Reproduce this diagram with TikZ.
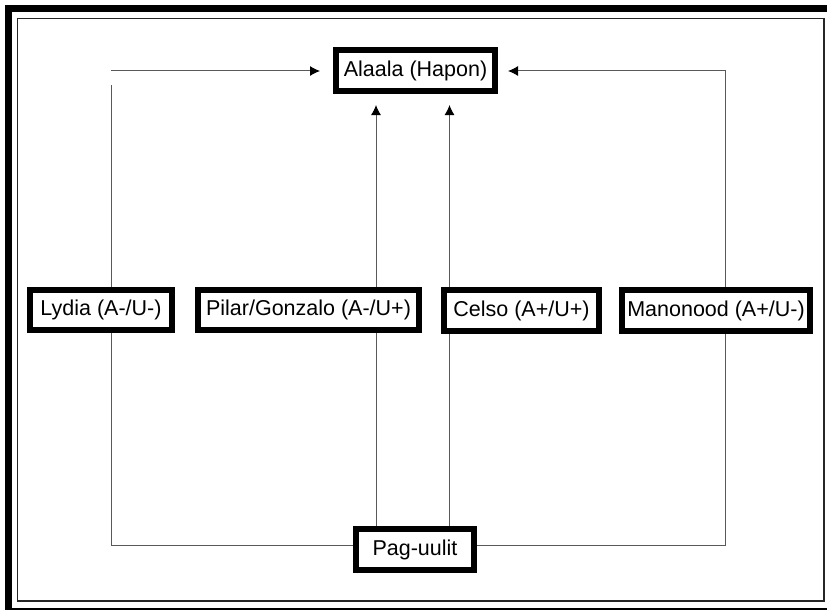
\documentclass[tikz,border=0pt]{standalone}
\usepackage{fontspec}
\setmainfont{Liberation Sans}
\usetikzlibrary{arrows.meta,backgrounds}

\begin{document}
\begin{tikzpicture}[x=1pt, y=-1pt,
    box/.style={rectangle, draw, line width=6pt, fill=white, inner sep=0pt, minimum height=41pt, font=\fontsize{21.5}{25}\selectfont},
    link/.style={black!65, line width=1pt},
    arr/.style={link, -{Latex[length=10pt, width=10pt, color=black]}, shorten >=11pt}]

    % Fix the page size and clip the outer frame
    \useasboundingbox (0,0) rectangle (827,610);
    \clip (0,0) rectangle (827,610);

    % Draw the double frame round the picture
    \draw[line width=7pt] (8.5,8.5) rectangle (832,611);
    \draw[line width=1.6pt, black!85] (17.5,18.5) rectangle (824,601);

    % Helper coordinates for the lines
    \coordinate (lcol) at (111,545);
    \coordinate (ltop) at (111,85);
    \coordinate (lstart) at (111,71);
    \coordinate (pcol) at (376,545);
    \coordinate (ccol) at (449.5,545);
    \coordinate (rcol) at (725.5,545);

    % Define the nodes
    \node[box, minimum width=159pt] (alaala) at (415.5,70.5) {Alaala (Hapon)};
    \node[box, minimum width=142pt, minimum height=40pt] (lydia) at (101,310) {Lydia (A-/U-)};
    \node[box, minimum width=221pt, minimum height=40pt] (pilar) at (308.5,310) {Pilar/Gonzalo (A-/U+)};
    \node[box, minimum width=155pt] (celso) at (521.5,310.5) {Celso (A+/U+)};
    \node[box, minimum width=188pt] (manonood) at (716,310.5) {Manonood (A+/U-)};
    \node[box, minimum width=118pt] (paguulit) at (415,549.5) {Pag-uulit};

    % Draw the lines behind the boxes
    \begin{scope}[on background layer]
        \draw[link] (paguulit.west |- lcol) -| (ltop);
        \draw[link] (paguulit.east |- lcol) -| (rcol |- lstart);
        \draw[arr, shorten >=13pt] (lstart) -- (alaala.west |- lstart);
        \draw[arr, shorten >=10pt] (rcol |- lstart) -- (alaala.east |- lstart);
        \draw[arr] (paguulit.north -| pcol) -- (alaala.south -| pcol);
        \draw[arr] (paguulit.north -| ccol) -- (alaala.south -| ccol);
    \end{scope}
\end{tikzpicture}
\end{document}
